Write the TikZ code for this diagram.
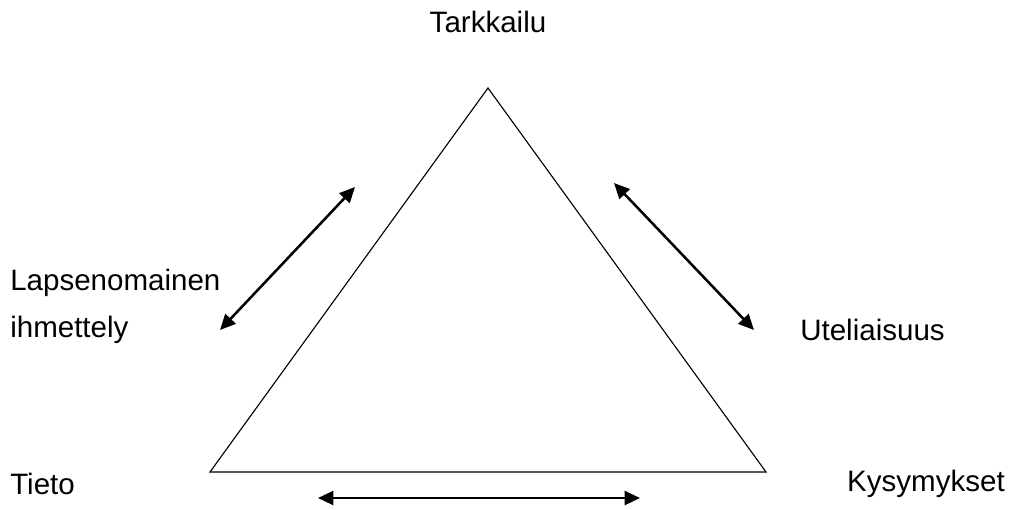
\documentclass[tikz,border=0pt]{standalone}
\usepackage{fontspec}
\setmainfont{Liberation Sans}
\usetikzlibrary{arrows.meta}

\begin{document}
\begin{tikzpicture}[
    x=0.025cm, y=-0.025cm,
    lbl/.style={font=\fontsize{21}{25}\selectfont, inner sep=0pt},
    dbl/.style={{Triangle[length=11pt,width=10pt]}-{Triangle[length=11pt,width=10pt]}, line width=1.8pt},
  ]
    \useasboundingbox (0,0) rectangle (1016,510);
    % triangle
    \coordinate (top) at (488,88);
    \coordinate (bl)  at (210,472);
    \coordinate (br)  at (766,472);
    \draw[line width=0.8pt] (top) -- (bl) -- (br) -- cycle;

    % labels
    \node[lbl] (tark) at (488,22) {Tarkkailu};
    \node[lbl, anchor=west] (laps) at (10,283) {Lapsenomainen};
    \node[lbl, anchor=west] (ihme) at (10,330) {ihmettely};
    \node[lbl, anchor=west] (utel) at (800,330) {Uteliaisuus};
    \node[lbl, anchor=west] (tiet) at (10,484) {Tieto};
    \node[lbl, anchor=east] (kysy) at (1005,484) {Kysymykset};

    % arrows
    \coordinate (a1) at (355,187);
    \coordinate (a2) at (220,330);
    \coordinate (b1) at (614,183);
    \coordinate (b2) at (754,330);
    \coordinate (c1) at (318,498);
    \coordinate (c2) at (640,498);
    \draw[dbl] (a1) -- (a2);
    \draw[dbl] (b1) -- (b2);
    \draw[dbl] (c1) -- (c2);
\end{tikzpicture}
\end{document}
